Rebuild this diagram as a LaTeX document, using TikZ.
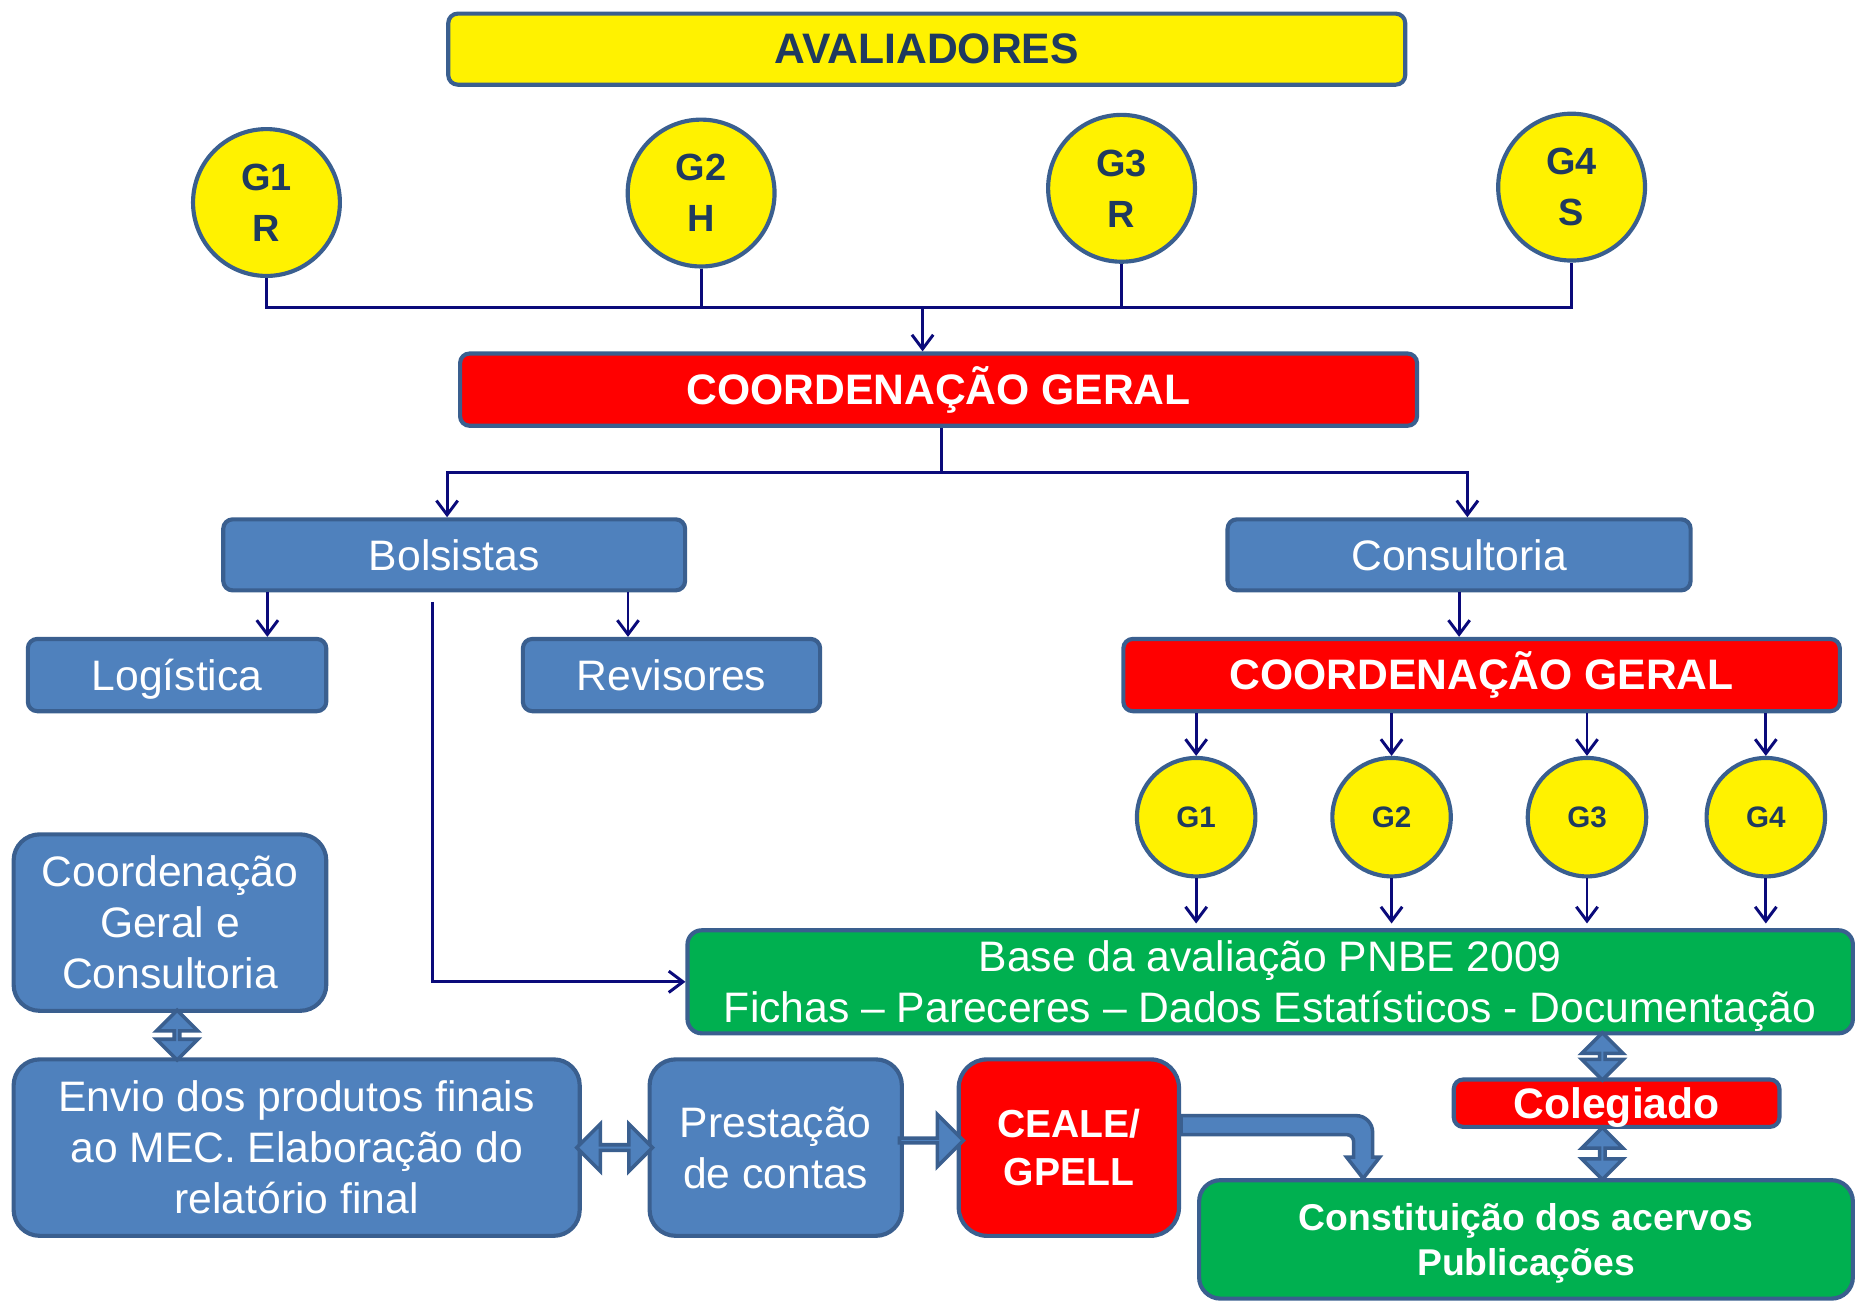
\documentclass[tikz,border=0pt]{standalone}
\usepackage{fontspec}
\setmainfont{Liberation Sans}
\usetikzlibrary{arrows.meta,shapes.arrows,calc}
\definecolor{boxblue}{HTML}{4F81BD}
\definecolor{rim}{HTML}{3A5F8F}
\definecolor{wire}{HTML}{0A0A7A}
\definecolor{gtext}{HTML}{1F3A5F}
\definecolor{boxgreen}{HTML}{00B050}

\begin{document}
\begin{tikzpicture}[x=1pt, y=-1pt, >={Straight Barb[length=12pt,width=18pt]},
    box/.style={draw=rim, line width=3.5pt, rounded corners=8pt, inner sep=0pt, align=center, text=white, font=\fontsize{36}{43}\selectfont},
    redbox/.style={box, fill=red, font=\bfseries\fontsize{36}{43}\selectfont},
    bluebox/.style={box, fill=boxblue},
    greenbox/.style={box, fill=boxgreen},
    grp/.style={circle, draw=rim, line width=3.5pt, fill=yellow, text=gtext, inner sep=0pt, align=center, minimum size=124pt, font=\bfseries\fontsize{32}{43}\selectfont},
    subgrp/.style={grp, minimum size=100pt, font=\bfseries\fontsize{25}{30}\selectfont},
    wire/.style={draw=wire, line width=2.5pt},
    blk/.style={draw=rim, fill=boxblue, line width=3pt, inner sep=0pt},
    dblarrow/.style={blk, double arrow, minimum width=35pt, double arrow head extend=9.5pt, minimum height=40pt}]

    \useasboundingbox (0,0) rectangle (1568,1100);

    % avaliadores
    \node[box, fill=yellow, text=gtext, font=\bfseries\fontsize{36}{43}\selectfont, minimum width=808pt, minimum height=60pt] (aval) at (782.5,41.5) {AVALIADORES};
    \node[grp] (g1) at (225,171) {G1\\R};
    \node[grp] (g2) at (592,163) {G2\\H};
    \node[grp] (g3) at (947,159) {G3\\R};
    \node[grp] (g4) at (1327,158) {G4\\S};

    \node[redbox, minimum width=808pt, minimum height=61pt] (cg1) at (792.5,329) {COORDENAÇÃO GERAL};

    \node[bluebox, minimum width=390pt, minimum height=60pt] (bols) at (383.5,468.5) {Bolsistas};
    \node[bluebox, minimum width=391pt, minimum height=60pt] (cons) at (1232,468.5) {Consultoria};
    \node[bluebox, text depth=0pt, minimum width=252pt, minimum height=61pt] (log) at (149.5,570) {Logística};
    \node[bluebox, minimum width=251pt, minimum height=61pt] (rev) at (567,570) {Revisores};
    \node[redbox, minimum width=605pt, minimum height=61pt] (cg2) at (1251,570) {COORDENAÇÃO GERAL};

    \node[subgrp] (c1) at (1010,690) {G1};
    \node[subgrp] (c2) at (1175,690) {G2};
    \node[subgrp] (c3) at (1340,690) {G3};
    \node[subgrp] (c4) at (1491,690) {G4};

    \node[greenbox, rounded corners=12pt, text depth=0pt, minimum width=984pt, minimum height=87pt] (base) at (1072.5,829) {Base da avaliação PNBE 2009\\Fichas -- Pareceres -- Dados Estatísticos - Documentação};

    \node[bluebox, rounded corners=22pt, minimum width=264pt, minimum height=149pt] (cgc) at (143.5,779) {Coordenação\\Geral e\\Consultoria};
    \node[bluebox, rounded corners=22pt, minimum width=478pt, minimum height=149pt] (envio) at (250.5,969) {Envio dos produtos finais\\ao MEC. Elaboração do\\relatório final};
    \node[bluebox, rounded corners=22pt, minimum width=213pt, minimum height=149pt] (prest) at (655,969) {Prestação\\de contas};
    \node[redbox, rounded corners=24pt, minimum width=186pt, minimum height=149pt, font=\bfseries\fontsize{33}{41}\selectfont] (ceale) at (902.5,969) {CEALE/\\GPELL};
    \node[redbox, text depth=0pt, minimum width=275pt, minimum height=40pt] (coleg) at (1365,931.5) {Colegiado};
    \node[greenbox, rounded corners=18pt, text depth=0pt, minimum width=552pt, minimum height=100pt, font=\bfseries\fontsize{31.5}{38}\selectfont] (const) at (1288.5,1046.5) {Constituição dos acervos\\Publicações};

    % connectors
    \coordinate (bus) at (779,260);
    \coordinate (split) at (795,399);
    \draw[wire] (g1.south) -- (g1.south |- bus) -| (g4.south);
    \draw[wire] (g2.south) -- (g2.south |- bus);
    \draw[wire] (g3.south) -- (g3.south |- bus);
    \draw[wire, ->] (bus) -- (bus |- cg1.north);
    \draw[wire] (split |- cg1.south) -- (split);
    \draw[wire, ->] (split) -| ([xshift=-6pt]bols.north);
    \draw[wire, ->] (split) -| ([xshift=7pt]cons.north);
    \draw[wire, ->] ([xshift=39pt]bols.south west) -- ([xshift=39pt]bols.south west |- log.north);
    \draw[wire, ->] ([xshift=-50pt]bols.south east) -- ([xshift=-50pt]bols.south east |- rev.north);
    \draw[wire, ->] ([xshift=-18pt,yshift=-8pt]bols.south) |- (base.west);
    \draw[wire, ->] (cons.south) -- (cons.south |- cg2.north);
    \foreach \g in {c1,c2,c3,c4} {
        \draw[wire, ->] (\g.north |- cg2.south) -- (\g.north);
        \draw[wire, ->, shorten >=4pt] (\g.south) -- (\g.south |- base.north);
    }

    % block arrows
    \node[dblarrow, rotate=90, minimum height=42pt] (a1) at ([xshift=6pt]$(cgc.south)!0.5!(cgc.south |- envio.north)$) {};
    \node[dblarrow, minimum height=64pt, minimum width=40pt, double arrow head extend=11pt] (a2) at ($(envio.east)!0.5!(prest.west)$) {};
    \node[blk, single arrow, minimum width=44pt, single arrow head extend=15pt, minimum height=54pt] (a3) at ([yshift=6pt]$(prest.east)!0.5!(ceale.west)$) {};
    \node[dblarrow, rotate=90] (a4) at ([xshift=-12pt]$(coleg.north)!0.5!(coleg.north |- base.south)$) {};
    \node[dblarrow, rotate=90, minimum height=44pt] (a5) at ([xshift=-12pt]$(coleg.south)!0.5!(coleg.south |- const.north)$) {};
    \coordinate (tip) at (1151,995);
    \draw[blk] (ceale.east |- 0,942) [rounded corners=14pt] -- (1159,942) [sharp corners] -- (1159,977) -- (1165,977) -- (tip) -- (1137,977) -- (1143,977) [rounded corners=6pt] -- (1143,958) [sharp corners] -- (ceale.east |- 0,958) -- cycle;
\end{tikzpicture}
\end{document}
